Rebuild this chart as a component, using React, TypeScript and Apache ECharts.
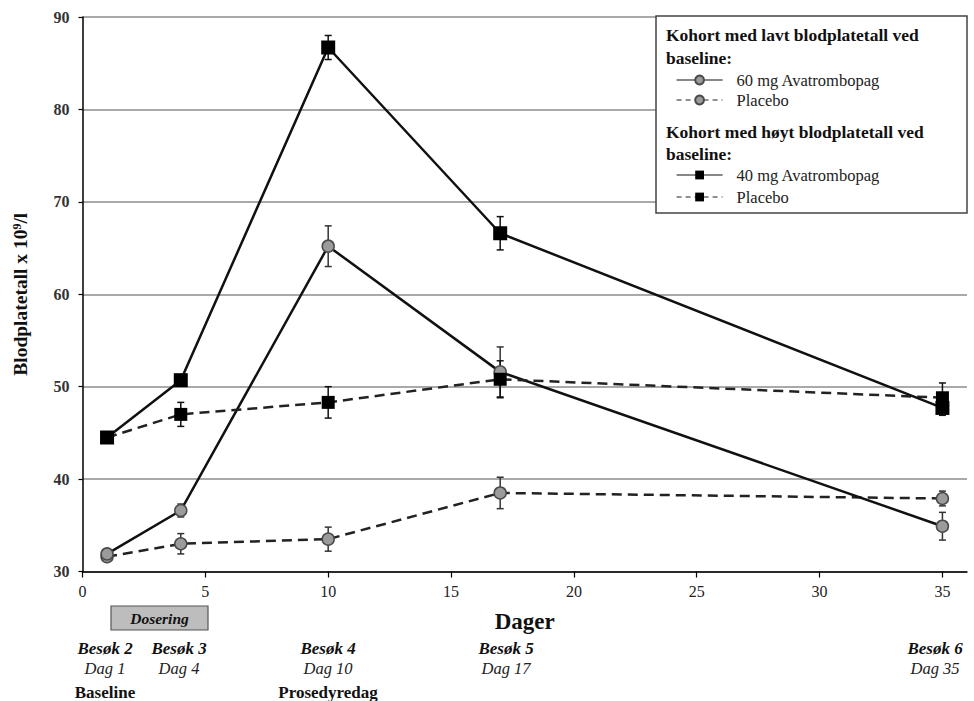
import { useEffect, useRef } from 'react';
import * as echarts from 'echarts';

// ---- data ----
const days = [1, 4, 10, 17, 35];
const low60 = [31.9, 36.6, 65.2, 51.6, 34.9];
const low60Err = [0, 0.7, 2.2, 2.7, 1.5];
const lowPlacebo = [31.6, 33.0, 33.5, 38.5, 37.9];
const lowPlaceboErr = [0, 1.1, 1.3, 1.7, 0.8];
const high40 = [44.5, 50.7, 86.7, 66.6, 47.7];
const high40Err = [0, 0.6, 1.3, 1.8, 0.8];
const highPlacebo = [44.5, 47.0, 48.3, 50.8, 48.8];
const highPlaceboErr = [0, 1.3, 1.7, 2.0, 1.6];

const xTicks = [0, 5, 10, 15, 20, 25, 30, 35];
const visitLabels = ['Besøk 2', 'Besøk 3', 'Besøk 4', 'Besøk 5', 'Besøk 6'];
const dayLabels = ['Dag 1', 'Dag 4', 'Dag 10', 'Dag 17', 'Dag 35'];
const noteLabels = ['Baseline', '', 'Prosedyredag', '', ''];

const NAME_LOW60 = '60 mg Avatrombopag';
const NAME_LOWPL = 'Placebo (lavt)';
const NAME_HIGH40 = '40 mg Avatrombopag';
const NAME_HIGHPL = 'Placebo (høyt)';

const FONT = '"Liberation Serif", "Times New Roman", serif';

const toPairs = (vals: number[]) => days.map((d, i) => [d, vals[i]]);
const toErr = (vals: number[], errs: number[]) =>
  days.map((d, i) => [d, vals[i] - errs[i], vals[i] + errs[i]]);

function errorSeries(vals: number[], errs: number[], color: string) {
  return {
    type: 'custom',
    z: 1,
    data: toErr(vals, errs),
    encode: { x: 0, y: [1, 2] },
    renderItem: (params: any, api: any) => {
      const x = api.value(0);
      const lo = api.value(1);
      const hi = api.value(2);
      if (hi - lo <= 0) return { type: 'group', children: [] };
      const pHi = api.coord([x, hi]);
      const pLo = api.coord([x, lo]);
      const w = 3.5;
      const style = { stroke: color, lineWidth: 1.5 };
      return {
        type: 'group',
        children: [
          { type: 'line', shape: { x1: pHi[0], y1: pHi[1], x2: pLo[0], y2: pLo[1] }, style },
          { type: 'line', shape: { x1: pHi[0] - w, y1: pHi[1], x2: pHi[0] + w, y2: pHi[1] }, style },
          { type: 'line', shape: { x1: pLo[0] - w, y1: pLo[1], x2: pLo[0] + w, y2: pLo[1] }, style },
        ],
      };
    },
  };
}

const circleStyle = { color: '#9b9b9b', borderColor: '#4a4a4a', borderWidth: 1.5 };
const squareStyle = { color: '#000', borderColor: '#000', borderWidth: 0 };

export default function App() {
  const ref = useRef<HTMLDivElement>(null);

  useEffect(() => {
    if (!ref.current) return;
    const chart = echarts.init(ref.current, undefined, { renderer: 'svg' });

    const legendBase = {
      orient: 'vertical',
      left: 676,
      padding: 0,
      itemWidth: 46,
      itemHeight: 11,
      selectedMode: false,
      z: 6,
      textStyle: { fontFamily: FONT, fontSize: 16.5, color: '#222', padding: [0, 0, 0, 9] },
      formatter: (n: string) => (n.startsWith('Placebo') ? 'Placebo' : n),
    };

    const headers = [
      { text: 'Kohort med lavt blodplatetall ved', y: 35 },
      { text: 'baseline:', y: 58 },
      { text: 'Kohort med høyt blodplatetall ved', y: 132 },
      { text: 'baseline:', y: 154 },
    ];

    const visitX = [105, 179, 328, 506, 935];

    const graphic: any[] = [
      {
        type: 'rect',
        z: 5,
        shape: { x: 656, y: 16, width: 311, height: 197 },
        style: { fill: '#fff', stroke: '#444', lineWidth: 1.5 },
      },
      ...headers.map((h) => ({
        type: 'text',
        z: 6,
        x: 666,
        y: h.y,
        style: {
          text: h.text,
          font: `bold 17.5px ${FONT}`,
          fill: '#111',
          textVerticalAlign: 'middle',
        },
      })),
      {
        type: 'rect',
        z: 5,
        shape: { x: 111, y: 606, width: 97, height: 24 },
        style: { fill: '#bdbdbd', stroke: '#555', lineWidth: 1.2 },
      },
      {
        type: 'text',
        z: 6,
        x: 159.5,
        y: 618,
        style: {
          text: 'Dosering',
          font: `italic bold 15.5px ${FONT}`,
          fill: '#111',
          textAlign: 'center',
          textVerticalAlign: 'middle',
        },
      },
      ...visitLabels.map((t, i) => ({
        type: 'text',
        x: visitX[i],
        y: 648,
        style: { text: t, font: `italic bold 17px ${FONT}`, fill: '#111', textAlign: 'center', textVerticalAlign: 'middle' },
      })),
      ...dayLabels.map((t, i) => ({
        type: 'text',
        x: visitX[i],
        y: 668,
        style: { text: t, font: `italic 16.5px ${FONT}`, fill: '#222', textAlign: 'center', textVerticalAlign: 'middle' },
      })),
      ...noteLabels
        .map((t, i) => ({ t, i }))
        .filter((o) => o.t)
        .map((o) => ({
          type: 'text',
          x: visitX[o.i],
          y: 692,
          style: { text: o.t, font: `bold 17px ${FONT}`, fill: '#111', textAlign: 'center', textVerticalAlign: 'middle' },
        })),
    ];

    chart.setOption({
      animation: false,
      backgroundColor: '#fff',
      grid: { left: 82.5, right: 7, top: 17, bottom: 129.5 },
      xAxis: {
        type: 'value',
        min: 0,
        max: 36,
        interval: 5,
        name: 'Dager',
        nameLocation: 'middle',
        nameGap: 38,
        nameTextStyle: { fontFamily: FONT, fontSize: 23, fontWeight: 'bold', color: '#111' },
        axisLine: { show: true, lineStyle: { color: '#000', width: 1.5 } },
        axisTick: { show: true, length: 6, customValues: xTicks, lineStyle: { color: '#000', width: 1.2 } },
        axisLabel: { customValues: xTicks, fontFamily: FONT, fontSize: 16, color: '#222', margin: 12 },
        splitLine: { show: false },
      },
      yAxis: {
        type: 'value',
        min: 30,
        max: 90,
        interval: 10,
        name: 'Blodplatetall x 10{sup|9}/l',
        nameLocation: 'middle',
        nameRotate: 90,
        nameGap: 52,
        nameTextStyle: {
          fontFamily: FONT,
          fontSize: 19.5,
          fontWeight: 'bold',
          color: '#111',
          rich: { sup: { fontFamily: FONT, fontSize: 12, fontWeight: 'bold', color: '#111', verticalAlign: 'top', padding: [0, 0, 7, 0] } },
        },
        axisLine: { show: true, lineStyle: { color: '#000', width: 1.5 } },
        axisTick: { show: true, length: 4, lineStyle: { color: '#000', width: 1.2 } },
        axisLabel: { fontFamily: FONT, fontSize: 16, fontWeight: 'bold', color: '#333', margin: 13 },
        splitLine: { show: true, lineStyle: { color: '#8c8c8c', width: 1.5 } },
      },
      legend: [
        { ...legendBase, top: 71.5, data: [{ name: NAME_LOW60, lineStyle: { width: 1.2, type: 'solid' } }] },
        { ...legendBase, top: 91.5, data: [{ name: NAME_LOWPL, lineStyle: { width: 1.2, type: [5, 4] } }] },
        { ...legendBase, top: 166.5, data: [{ name: NAME_HIGH40, lineStyle: { width: 1.2, type: 'solid' } }] },
        { ...legendBase, top: 188.5, data: [{ name: NAME_HIGHPL, lineStyle: { width: 1.2, type: [5, 4] } }] },
      ],
      graphic,
      series: [
        errorSeries(lowPlacebo, lowPlaceboErr, '#333'),
        errorSeries(low60, low60Err, '#333'),
        errorSeries(highPlacebo, highPlaceboErr, '#111'),
        errorSeries(high40, high40Err, '#111'),
        {
          name: NAME_LOWPL,
          type: 'line',
          z: 3,
          data: toPairs(lowPlacebo),
          symbol: 'circle',
          symbolSize: 12,
          itemStyle: circleStyle,
          lineStyle: { color: '#222', width: 2.5, type: [10, 6] },
        },
        {
          name: NAME_LOW60,
          type: 'line',
          z: 3,
          data: toPairs(low60),
          symbol: 'circle',
          symbolSize: 12,
          itemStyle: circleStyle,
          lineStyle: { color: '#111', width: 2.5, type: 'solid' },
        },
        {
          name: NAME_HIGHPL,
          type: 'line',
          z: 4,
          data: toPairs(highPlacebo),
          symbol: 'rect',
          symbolSize: 13,
          itemStyle: squareStyle,
          lineStyle: { color: '#222', width: 2.5, type: [10, 6] },
        },
        {
          name: NAME_HIGH40,
          type: 'line',
          z: 4,
          data: toPairs(high40),
          symbol: 'rect',
          symbolSize: 14,
          itemStyle: squareStyle,
          lineStyle: { color: '#111', width: 2.5, type: 'solid' },
        },
      ],
    });

    return () => chart.dispose();
  }, []);

  return (
    <div
      ref={ref}
      style={{ position: 'absolute', left: 0, top: 0, width: 974, height: 701, background: '#fff' }}
    />
  );
}
